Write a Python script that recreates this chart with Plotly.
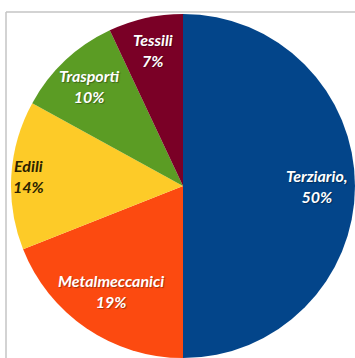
import math
import plotly.graph_objects as go

categories = ["Terziario", "Metalmeccanici", "Edili", "Trasporti", "Tessili"]
values = [50, 19, 14, 10, 7]
label_texts = ["Terziario,<br>50%", "Metalmeccanici<br>19%", "Edili<br>14%", "Trasporti<br>10%", "Tessili<br>7%"]
colors = ["#03458A", "#FC4A10", "#FDCB28", "#5B9C24", "#7A0026"]
text_colors = ["white", "white", "#2B2200", "white", "white"]
label_radius = [0.78, 0.74, 0.9, 0.8, 0.81]   # label distance from centre, as fraction of radius

W, H = 355, 358
cx, cy, r = 183, 186, 172

fig = go.Figure(go.Pie(
    labels=categories,
    values=values,
    textinfo="none",
    sort=False,
    direction="clockwise",
    rotation=0,
    marker=dict(colors=colors, line=dict(width=0)),
    domain=dict(x=[(cx - r) / W, min(1, (cx + r) / W)], y=[max(0, (H - cy - r) / H), (H - cy + r) / H]),
    showlegend=False,
    hoverinfo="label+percent",
))

total = sum(values)
cum = 0
for txt, v, col, fr in zip(label_texts, values, text_colors, label_radius):
    mid = (cum + v / 2) / total * 2 * math.pi
    cum += v
    px = cx + fr * r * math.sin(mid)
    py = cy - fr * r * math.cos(mid)
    fig.add_annotation(
        x=px / W, y=(H - py) / H, xref="paper", yref="paper",
        text=f"<b><i>{txt}</i></b>", showarrow=False,
        xanchor="center", yanchor="middle", align="center",
        font=dict(family="Lato", size=16, color=col,
                  shadow="1px 1px 1px rgba(0,0,0,0.35)" if col == "white" else "none"),
    )

# chart-area frame (top and left edges visible in the crop)
fig.add_shape(type="line", xref="paper", yref="paper",
              x0=6 / W, x1=1.0, y0=(H - 12) / H, y1=(H - 12) / H,
              line=dict(color="#C4C4C4", width=1.5), layer="above")
fig.add_shape(type="line", xref="paper", yref="paper",
              x0=6 / W, x1=6 / W, y0=0, y1=(H - 12) / H,
              line=dict(color="#C4C4C4", width=1.5), layer="above")

fig.update_layout(
    width=W, height=H,
    margin=dict(l=0, r=0, t=0, b=0),
    paper_bgcolor="white",
    plot_bgcolor="white",
)

fig.write_html("out.html", config={"displayModeBar": False},
               post_script="document.body.style.margin='0';document.body.style.overflow='hidden';")
